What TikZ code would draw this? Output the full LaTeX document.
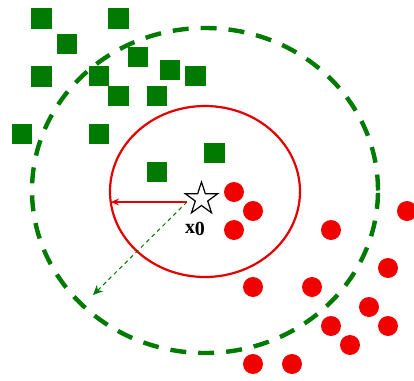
\documentclass[tikz,border=0pt]{standalone}
\usepackage{amsmath}
\usepackage{fontspec}
\setmainfont{Liberation Serif}
\usepackage{xcolor}
\usepackage{tikz}
\usetikzlibrary{shapes,arrows.meta,positioning,calc}

\begin{document}
\begin{tikzpicture}[
    x=0.5pt, y=-0.5pt,
    sq/.style={rectangle, fill=green!48!black, inner sep=0pt, minimum size=10.25pt},
    dot/.style={circle, fill=red!95!black, inner sep=0pt, minimum size=10pt},
    query/.style={star, star points=5, star point ratio=2.6, draw=black, fill=white, line width=0.6pt, inner sep=0pt, minimum size=17pt},
    ring/.style={ellipse, draw=red!90!black, line width=1.1pt, inner sep=0pt, minimum width=95pt, minimum height=85.5pt},
    bigring/.style={ellipse, draw=green!48!black, line width=2.2pt, dash pattern=on 8pt off 6pt, inner sep=0pt, minimum width=173pt, minimum height=162.5pt},
    arrow/.style={-{Stealth[length=4pt, width=3.5pt]}, draw=red!90!black, line width=0.6pt},
    darrow/.style={-{Stealth[length=5pt, width=4.5pt]}, draw=green!48!black, line width=0.5pt, dash pattern=on 2pt off 1.8pt}
]
    \useasboundingbox (0,0) rectangle (414,381);

    % neighbourhoods
    \node [bigring] (outer) at (205,190.5) {};

    % class A
    \node [sq] (g1) at (41.5,18.5) {};
    \node [sq] (g2) at (118.5,18.5) {};
    \node [sq] (g3) at (67,44) {};
    \node [sq] (g4) at (41.5,76.5) {};
    \node [sq] (g5) at (99,76) {};
    \node [sq] (g6) at (138,57) {};
    \node [sq] (g7) at (170,70) {};
    \node [sq] (g8) at (195.5,76) {};
    \node [sq] (g9) at (118.5,96) {};
    \node [sq] (g10) at (157,96) {};
    \node [sq] (g11) at (22,134) {};
    \node [sq] (g12) at (99,134) {};
    \node [sq] (g13) at (157,172) {};
    \node [sq] (g14) at (214.5,153) {};

    % class B
    \node [dot] (r1) at (234,192) {};
    \node [dot] (r2) at (253,211) {};
    \node [dot] (r3) at (234,230) {};
    \node [dot] (r4) at (331,230) {};
    \node [dot] (r5) at (407,211) {};
    \node [dot] (r6) at (388,268) {};
    \node [dot] (r7) at (253,287) {};
    \node [dot] (r8) at (312,287) {};
    \node [dot] (r9) at (369,307) {};
    \node [dot] (r10) at (331,326) {};
    \node [dot] (r11) at (388,326) {};
    \node [dot] (r12) at (350,345) {};
    \node [dot] (r13) at (253,364) {};
    \node [dot] (r14) at (292,364) {};

    \node [ring] (inner) at (205,191.5) {};

    % radii
    \coordinate (o) at (187,202);
    \coordinate (far) at (93,295);
    \draw [arrow] (o) -- ($(o -| inner.west)+(2,0)$);
    \draw [darrow] (o) -- (far);

    % query point
    \node [query] (x0) at (201.5,199) {};
    \node [font=\fontsize{10}{11}\selectfont\bfseries] (lbl) at (195,229) {x\raisebox{-1.2pt}{0}};
\end{tikzpicture}
\end{document}
